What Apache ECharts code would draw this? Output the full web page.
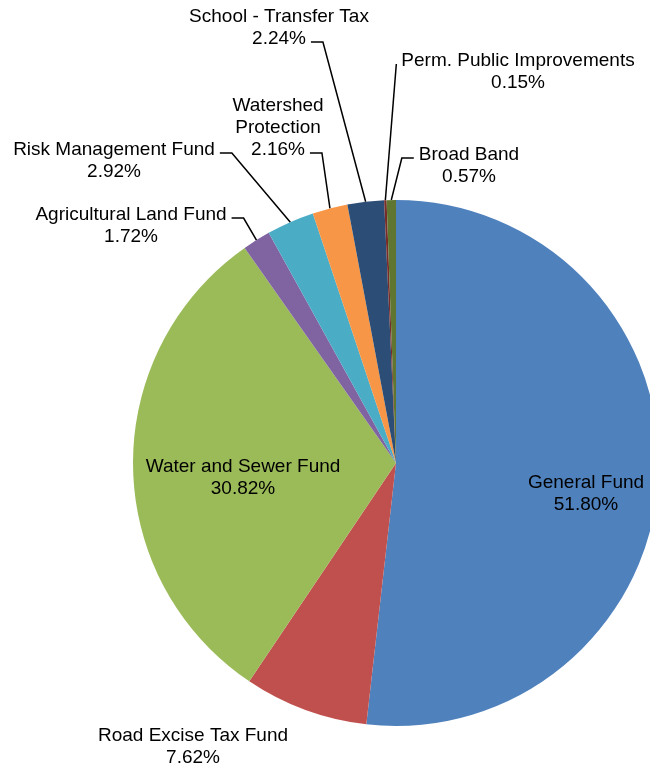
<!DOCTYPE html>
<html><head><meta charset="utf-8">
<script src="https://cdn.jsdelivr.net/npm/echarts@6/dist/echarts.min.js"></script>
<style>html,body{margin:0;padding:0;background:#fff}#c{width:650px;height:768px}</style>
</head><body><div id="c"></div>
<script>
const categories = ["General Fund","Road Excise Tax Fund","Water and Sewer Fund","Agricultural Land Fund","Risk Management Fund","Watershed\nProtection","School - Transfer Tax","Perm. Public Improvements","Broad Band"];
const shares = [51.80, 7.62, 30.82, 1.72, 2.92, 2.16, 2.24, 0.15, 0.57];
const colors = ["#4F81BD","#C0504D","#9BBB59","#8064A2","#4BACC6","#F79646","#2C4D75","#772C2A","#5F7530"];
// label centre positions (layout), and leader-line attach: [side, lineIndex, elbowLength] or null
const labelSpots = [[586,494],[193,747],[243,478],[131,226],[114,161],[278,128],[279,28],[518,72],[469,166]];
const attach = [null,null,null,['r',0,12],['r',0,12],['r',2,12],['r',1,12],['l',0,0],['l',0,12]];
const insideIdx = [0,2];

const CX = 396, CY = 463, R = 263;
const FONT_SIZE = 19, LINE_H = 22, FONT_FAMILY = 'Liberation Sans, Arial, sans-serif';
const ctx = document.createElement('canvas').getContext('2d');
ctx.font = FONT_SIZE + 'px ' + FONT_FAMILY;
const labelText = i => categories[i] + '\n' + shares[i].toFixed(2) + '%';
const total = shares.reduce((a,b)=>a+b,0);
function midPoint(i){
  let before = 0; for (let k=0;k<i;k++) before += shares[k];
  const frac = (before + shares[i]/2) / total;
  const a = frac * 2 * Math.PI; // clockwise from 12 o'clock
  return [CX + R*Math.sin(a), CY - R*Math.cos(a)];
}

const chart = echarts.init(document.getElementById('c'), null, {renderer:'canvas'});
chart.setOption({
  animation:false,
  series:[{
    type:'pie',
    center:[CX,CY],
    radius:R,
    startAngle:90,
    clockwise:true,
    avoidLabelOverlap:false,
    itemStyle:{borderWidth:0},
    label:{
      show:true,
      position:'outside',
      formatter:p=>labelText(p.dataIndex),
      fontFamily:FONT_FAMILY,
      fontSize:FONT_SIZE,
      lineHeight:LINE_H,
      color:'#000',
      align:'center'
    },
    labelLine:{show:true,length:10,length2:12,lineStyle:{color:'#000',width:1.5}},
    labelLayout:function(p){
      const i = p.dataIndex;
      const s = labelSpots[i];
      const out = {x:s[0], y:s[1], align:'center', verticalAlign:'middle'};
      const at = attach[i];
      if (at) {
        const lines = labelText(i).split('\n');
        const n = lines.length;
        const w = ctx.measureText(lines[at[1]]).width;
        const ly = s[1] - (n*LINE_H)/2 + LINE_H*at[1] + LINE_H/2 + 3;
        const dir = at[0]==='r' ? 1 : -1;
        const ax = s[0] + dir*(w/2 + 5);
        const ex = ax + dir*at[2];
        out.labelLinePoints = at[2] > 0 ? [[ax,ly],[ex,ly],midPoint(i)] : [[ax,ly],[ax,ly],midPoint(i)];
      }
      return out;
    },
    data:categories.map((c,i)=>({
      name:c, value:shares[i],
      itemStyle:{color:colors[i]},
      label: insideIdx.includes(i) ? {position:'inside'} : undefined,
      labelLine: attach[i] ? undefined : {show:false}
    }))
  }]
});
</script></body></html>
